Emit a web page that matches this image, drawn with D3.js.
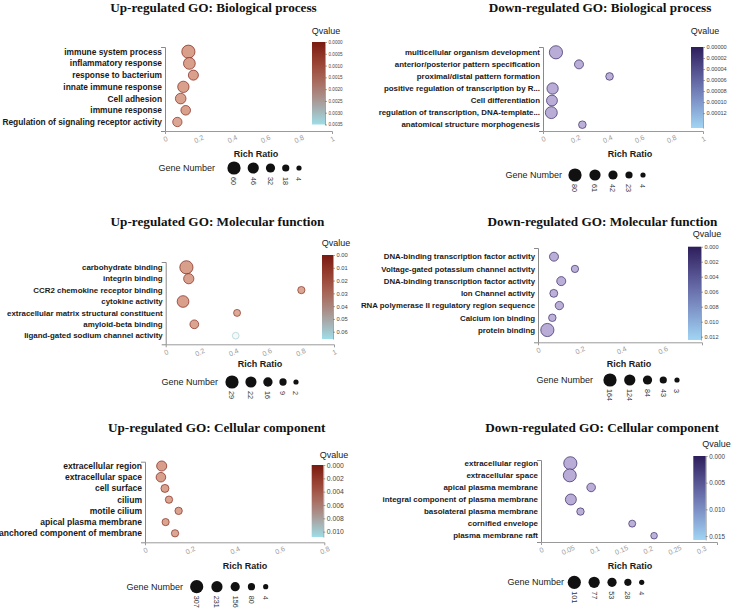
<!DOCTYPE html>
<html><head><meta charset="utf-8">
<script src="https://cdn.jsdelivr.net/npm/d3@7"></script>
<style>
body{margin:0;background:#fff;}
svg{display:block;font-family:"Liberation Sans",Arial,sans-serif;}
</style></head><body>
<svg id="chart" width="731" height="609"></svg>
<script>
// ---------------- DATA ----------------
const upBPTerms = ["immune system process","inflammatory response","response to bacterium","innate immune response","Cell adhesion","immune response","Regulation of signaling receptor activity"];
const upBPRatio = [0.14,0.146,0.17,0.11,0.094,0.124,0.074];
const upBPGenes = [60,50,38,47,42,35,33];
const upBPQ = [0.00002,0.00004,0.00008,0.00006,0.00015,0.0001,0.0003];
const upBPLegend = [60,46,32,18,4];
const upBPQTicks = [0,0.0005,0.001,0.0015,0.002,0.0025,0.003,0.0035];
const upBPXTicks = [0,0.2,0.4,0.6,0.8,1];

const downBPTerms = ["multicellular organism development","anterior/posterior pattern specification","proximal/distal pattern formation","positive regulation of transcription by R...","Cell differentiation","regulation of transcription, DNA-template...","anatomical structure morphogenesis"];
const downBPRatio = [0.081,0.225,0.416,0.06,0.056,0.052,0.246];
const downBPGenes = [80,40,27,62,58,68,27];
const downBPQ = [0.0000005,0.000003,0.000006,0.000001,0.000002,0.000001,0.000008];
const downBPLegend = [80,61,42,23,4];
const downBPQTicks = [0,0.00002,0.00004,0.00006,0.00008,0.0001,0.00012];
const downBPXTicks = [0,0.2,0.4,0.6,0.8,1];

const upMFTerms = ["carbohydrate binding","integrin binding","CCR2 chemokine receptor binding","cytokine activity","extracellular matrix structural constituent","amyloid-beta binding","ligand-gated sodium channel activity"];
const upMFRatio = [0.123,0.137,0.806,0.103,0.424,0.17,0.416];
const upMFGenes = [29,19,9,24,8,14,7];
const upMFQ = [0.0005,0.002,0.006,0.001,0.008,0.004,0.062];
const upMFLegend = [29,22,16,9,2];
const upMFQTicks = [0,0.01,0.02,0.03,0.04,0.05,0.06];
const upMFXTicks = [0,0.2,0.4,0.6,0.8,1];

const downMFTerms = ["DNA-binding transcription factor activity","Voltage-gated potassium channel activity","DNA-binding transcription factor activity ","Ion Channel activity","RNA polymerase II regulatory region sequence","Calcium ion binding","protein binding"];
const downMFRatio = [0.077,0.178,0.112,0.076,0.103,0.069,0.045];
const downMFGenes = [79,45,80,58,66,50,164];
const downMFQ = [0.0002,0.0008,0.0004,0.0006,0.0005,0.0009,0.0001];
const downMFLegend = [164,124,84,43,3];
const downMFQTicks = [0,0.002,0.004,0.006,0.008,0.01,0.012];
const downMFXTicks = [0,0.2,0.4,0.6];

const upCCTerms = ["extracellular region","extracellular space","cell surface","cilium","motile cilium","apical plasma membrane","anchored component of membrane"];
const upCCRatio = [0.0745,0.071,0.089,0.107,0.15,0.092,0.134];
const upCCGenes = [190,170,110,85,88,80,84];
const upCCQ = [0.00005,0.0001,0.0005,0.0008,0.0006,0.0007,0.0009];
const upCCLegend = [307,231,156,80,4];
const upCCQTicks = [0,0.002,0.004,0.006,0.008,0.01];
const upCCXTicks = [0,0.2,0.4,0.6,0.8];

const downCCTerms = ["extracellular region","extracellular space","apical plasma membrane","integral component of plasma membrane","basolateral plasma membrane","cornified envelope","plasma membrane raft"];
const downCCRatio = [0.055,0.054,0.094,0.056,0.074,0.171,0.212];
const downCCGenes = [101,98,45,74,31,26,21];
const downCCQ = [0.00001,0.00002,0.0004,0.00003,0.0006,0.0009,0.0012];
const downCCLegend = [101,77,53,28,4];
const downCCQTicks = [0,0.005,0.01,0.015];
const downCCXTicks = [0,0.05,0.1,0.15,0.2,0.25,0.3];

// ---------------- LAYOUT ----------------
const panels = [
 {title:"Up-regulated GO: Biological process", kind:"up", terms:upBPTerms, ratio:upBPRatio, genes:upBPGenes, q:upBPQ, legend:upBPLegend, qTicks:upBPQTicks, xTicks:upBPXTicks,
  L:{title:[213.5,12], x:[165,332], xMax:1, yTop:47, axisY:131, rows:[51.7,122], lab:8.4, qLab:[326,33.5], bar:[312,325,42,124.5], qMax:0.0035, qFmt:".4f", qFont:4.6, rr:[256,156.5], gnEnd:215, legY:168, legX:[234,299]}},
 {title:"Down-regulated GO: Biological process", kind:"down", terms:downBPTerms, ratio:downBPRatio, genes:downBPGenes, q:downBPQ, legend:downBPLegend, qTicks:downBPQTicks, xTicks:downBPXTicks,
  L:{title:[600,12], x:[543,703], xMax:1, yTop:47, axisY:131, rows:[52.3,124.7], lab:7.9, qLab:[705,33.5], bar:[691,703,47,128], qMax:0.000147, qFmt:".5f", qFont:5.6, rr:[630,157], gnEnd:562, legY:175, legX:[575,643]}},
 {title:"Up-regulated GO: Molecular function", kind:"up", terms:upMFTerms, ratio:upMFRatio, genes:upMFGenes, q:upMFQ, legend:upMFLegend, qTicks:upMFQTicks, xTicks:upMFXTicks,
  L:{title:[217.5,226], x:[165.7,334], xMax:1, yTop:262, axisY:344.3, rows:[267.3,335.7], lab:7.9, qLab:[336,246], bar:[322,333,255,339], qMax:0.0657, qFmt:".2f", qFont:5.8, rr:[260,366.5], gnEnd:218, legY:382, legX:[232,296]}},
 {title:"Down-regulated GO: Molecular function", kind:"down", terms:downMFTerms, ratio:downMFRatio, genes:downMFGenes, q:downMFQ, legend:downMFLegend, qTicks:downMFQTicks, xTicks:downMFXTicks,
  L:{title:[602.5,225.5], x:[538,702], xMax:0.79, yTop:248, axisY:342.3, rows:[256.7,330], lab:7.85, qLab:[707,237.3], bar:[688,701,246.7,340], qMax:0.01244, qFmt:".3f", qFont:5.6, rr:[629,366.5], gnEnd:593, legY:380, legX:[610,677]}},
 {title:"Up-regulated GO: Cellular component", kind:"up", terms:upCCTerms, ratio:upCCRatio, genes:upCCGenes, q:upCCQ, legend:upCCLegend, qTicks:upCCQTicks, xTicks:upCCXTicks,
  L:{title:[216.7,432], x:[145,324.3], xMax:0.8, yTop:461.7, axisY:542.3, rows:[466,533.3], lab:8.55, qLab:[334,458], bar:[311.7,323.3,465,537], qMax:0.0108, qFmt:".3f", qFont:6.8, rr:[245,568.5], gnEnd:183, legY:586.7, legX:[196.7,265.7]}},
 {title:"Down-regulated GO: Cellular component", kind:"down", terms:downCCTerms, ratio:downCCRatio, genes:downCCGenes, q:downCCQ, legend:downCCLegend, qTicks:downCCQTicks, xTicks:downCCXTicks,
  L:{title:[602,431.5], x:[541,717], xMax:0.33, yTop:460, axisY:542, rows:[463.3,535.7], lab:7.96, qLab:[716.5,446.7], bar:[693.3,705.7,456,540], qMax:0.01575, qFmt:".3f", qFont:6.3, rr:[630,569], gnEnd:564, legY:582.3, legX:[574.3,641.7]}}
];

const palettes = {
  up:   {bar: d3.interpolateRgbBasis(["#7a1a10","#a5503d","#ad8c85","#9edde8"]), fill0:"#d89e89", fill1:"#fafdfd"},
  down: {bar: d3.interpolateRgbBasis(["#2d1e5a","#5b5798","#7f94c9","#a0d5f4"]), fill0:"#b9acd7", fill1:"#eef6fc"}
};

const svg = d3.select("#chart");
const defs = svg.append("defs");
const SANS = "'Liberation Sans',Arial,sans-serif";

panels.forEach((p, i) => {
  const L = p.L, pal = palettes[p.kind];
  const g = svg.append("g");

  g.append("text").attr("x", L.title[0]).attr("y", L.title[1]).attr("text-anchor","middle")
    .attr("font-family","'Liberation Serif','Times New Roman',serif").attr("font-weight","bold")
    .attr("font-size",13.2).attr("fill","#111").text(p.title);

  const x = d3.scaleLinear().domain([0, L.xMax]).range(L.x);
  const y = d3.scalePoint().domain(p.terms).range(L.rows);
  const yFrame = d3.scaleLinear().domain([0,1]).range([L.yTop, L.axisY]);
  const rScale = d3.scaleLinear().domain(d3.extent(p.legend)).range([2.6, 6.6]);
  const qPos = d3.scaleLinear().domain([0, L.qMax]).range([0,1]).clamp(true);
  const fill = d3.scaleLinear().domain([0, L.qMax]).range([pal.fill0, pal.fill1]).clamp(true);

  // y axis bracket
  const ya = g.append("g").attr("transform",`translate(${L.x[0]},0)`)
    .call(d3.axisLeft(yFrame).tickValues([]).tickSizeOuter(4));
  ya.select(".domain").attr("stroke","#8a8a8a");

  // x axis
  const xa = g.append("g").attr("transform",`translate(0,${L.axisY})`)
    .call(d3.axisBottom(x).tickValues(p.xTicks).tickSizeInner(0).tickSizeOuter(3)
      .tickFormat(d => String(+d.toFixed(3))));
  xa.attr("font-family", SANS).attr("font-size", 7);
  xa.select(".domain").attr("stroke","#9a9a9a");
  xa.selectAll("text").attr("y",0).attr("dy","0.35em")
    .attr("transform","translate(0,8) rotate(-25)").attr("fill","#9a9a9a");

  // term labels
  g.selectAll("text.lab").data(p.terms).join("text").attr("class","lab")
    .attr("x", L.x[0]-3).attr("y", d => y(d)).attr("dy","0.35em")
    .attr("text-anchor","end").attr("font-weight","bold").attr("font-size", L.lab)
    .attr("fill","#1a1a1a").text(d => d.trim());

  // bubbles
  g.selectAll("circle.b").data(p.terms.map((t,k)=>({t, r:p.ratio[k], n:p.genes[k], q:p.q[k]})))
    .join("circle").attr("class","b")
    .attr("cx", d => x(d.r)).attr("cy", d => y(d.t)).attr("r", d => rScale(d.n))
    .attr("fill", d => fill(d.q))
    .attr("stroke", d => pal.bar(qPos(d.q))).attr("stroke-opacity",0.85).attr("stroke-width",0.8);

  // colour bar
  const gid = "cb" + i;
  const grad = defs.append("linearGradient").attr("id", gid).attr("x1",0).attr("y1",0).attr("x2",0).attr("y2",1);
  d3.range(0, 1.0001, 0.1).forEach(t => grad.append("stop").attr("offset", t).attr("stop-color", pal.bar(t)));
  const [bx0,bx1,by0,by1] = L.bar;
  g.append("rect").attr("x",bx0).attr("y",by0).attr("width",bx1-bx0).attr("height",by1-by0).attr("fill",`url(#${gid})`);
  const qScale = d3.scaleLinear().domain([0, L.qMax]).range([by0, by1]);
  const qa = g.append("g").attr("transform",`translate(${bx1},0)`)
    .call(d3.axisRight(qScale).tickValues(p.qTicks).tickFormat(d3.format(L.qFmt)).tickSize(2).tickSizeOuter(0).tickPadding(1.5));
  qa.attr("font-family", SANS).attr("font-size", L.qFont);
  qa.select(".domain").attr("stroke","#666").attr("stroke-width",0.6);
  qa.selectAll(".tick line").attr("stroke","#666").attr("stroke-width",0.6);
  qa.selectAll("text").attr("fill","#444");

  g.append("text").attr("x", L.qLab[0]).attr("y", L.qLab[1]).attr("text-anchor","middle")
    .attr("font-size",9).attr("fill","#222").text("Qvalue");

  // Rich Ratio
  g.append("text").attr("x", L.rr[0]).attr("y", L.rr[1]).attr("text-anchor","middle")
    .attr("font-size",9).attr("font-weight","bold").attr("fill","#1a1a1a").text("Rich Ratio");

  // Gene Number legend
  g.append("text").attr("x", L.gnEnd).attr("y", L.legY + 3).attr("text-anchor","end")
    .attr("font-size",9).attr("fill","#222").text("Gene Number");
  const rs = p.legend.map(v => rScale(v));
  let span = 0; for (let k=1;k<rs.length;k++) span += rs[k-1]+rs[k];
  const gap = (L.legX[1]-L.legX[0]-span)/(rs.length-1);
  const xs = [L.legX[0]];
  for (let k=1;k<rs.length;k++) xs.push(xs[k-1]+rs[k-1]+rs[k]+gap);
  const lg = g.selectAll("g.leg").data(p.legend).join("g").attr("class","leg")
    .attr("transform",(d,k)=>`translate(${xs[k]},${L.legY})`);
  lg.append("circle").attr("r", d => rScale(d)).attr("fill","#111");
  lg.append("text").attr("transform","translate(0,9) rotate(90)").attr("dy","0.35em")
    .attr("font-size",7.2).attr("fill","#333").text(d => d);
});
</script>
</body></html>
